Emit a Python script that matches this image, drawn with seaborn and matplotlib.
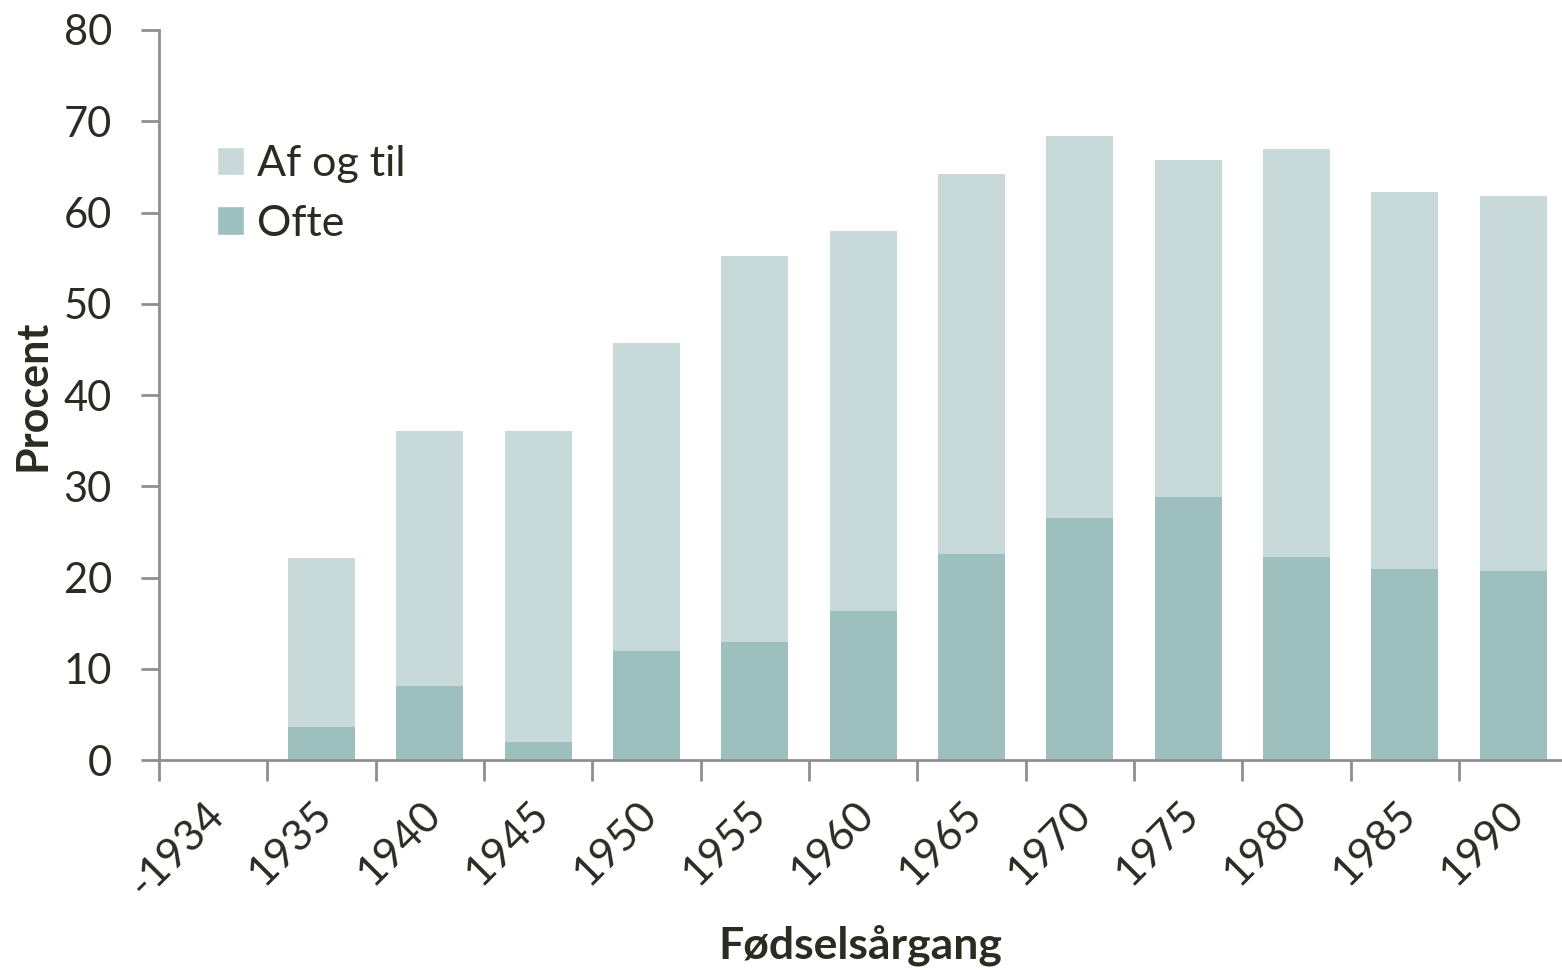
import pandas as pd
import matplotlib.pyplot as plt
import seaborn as sns
from matplotlib.patches import Patch
from matplotlib.ticker import FixedLocator
from matplotlib.transforms import ScaledTranslation

# Birth cohorts and shares (percent)
cohorts = ["-1934", "1935", "1940", "1945", "1950", "1955", "1960",
           "1965", "1970", "1975", "1980", "1985", "1990"]
ofte = [0, 3.6, 8.1, 2.0, 11.9, 12.9, 16.3, 22.6, 26.5, 28.8, 22.2, 20.9, 20.7]
af_og_til = [0, 18.5, 28.0, 34.1, 33.8, 42.3, 41.7, 41.6, 41.9, 37.0, 44.8, 41.3, 41.1]

df = pd.DataFrame({"cohort": cohorts, "Ofte": ofte, "Af og til": af_og_til})
df["total"] = df["Ofte"] + df["Af og til"]

sns.set_style("white")
plt.rcParams["font.family"] = ["Lato", "DejaVu Sans"]

light = "#c7dad9"
dark = "#9dbfbe"
txt = "#2d2a22"
axc = "#8f8f8f"

fig = plt.figure(figsize=(15.62, 9.74), dpi=100)
ax = fig.add_axes([0.1018, 0.2197, 0.8982, 0.7495])

sns.barplot(data=df, x="cohort", y="total", order=cohorts, color=light,
            saturation=1, width=0.62, ax=ax, linewidth=0)
sns.barplot(data=df, x="cohort", y="Ofte", order=cohorts, color=dark,
            saturation=1, width=0.62, ax=ax, linewidth=0)

ax.set_ylim(0, 80)
ax.set_xlim(-0.5, 12.45)
ax.set_yticks(range(0, 81, 10))

for s in ["top", "right"]:
    ax.spines[s].set_visible(False)
for s in ["left", "bottom"]:
    ax.spines[s].set_color(axc)
    ax.spines[s].set_linewidth(2)

ax.tick_params(axis="y", length=13, width=2, color=axc, labelsize=30,
               labelcolor=txt, pad=21, left=True)
ax.tick_params(axis="x", which="major", length=0, labelsize=31,
               labelcolor=txt, pad=25)
ax.xaxis.set_minor_locator(FixedLocator([i - 0.5 for i in range(13)]))
ax.tick_params(axis="x", which="minor", length=15, width=2, color=axc,
               bottom=True)
shift = ScaledTranslation(-0.09, 0, fig.dpi_scale_trans)
for lab in ax.get_xticklabels():
    lab.set_rotation(45)
    lab.set_ha("right")
    lab.set_rotation_mode("anchor")
    lab.set_transform(lab.get_transform() + shift)

ax.set_xlabel("Fødselsårgang", fontsize=32, fontweight="bold", color=txt,
              labelpad=15)
ax.set_ylabel("Procent", fontsize=31, fontweight="bold", color=txt,
              labelpad=8)

handles = [Patch(facecolor=light, label="Af og til"),
           Patch(facecolor=dark, label="Ofte")]
leg = ax.legend(handles=handles, loc="upper left", bbox_to_anchor=(0.029, 0.866),
                frameon=False, fontsize=31, handlelength=0.63, handleheight=0.63,
                handletextpad=0.3, labelspacing=0.5, borderaxespad=0)
for t in leg.get_texts():
    t.set_color(txt)

fig.savefig("out.png", dpi=100)
